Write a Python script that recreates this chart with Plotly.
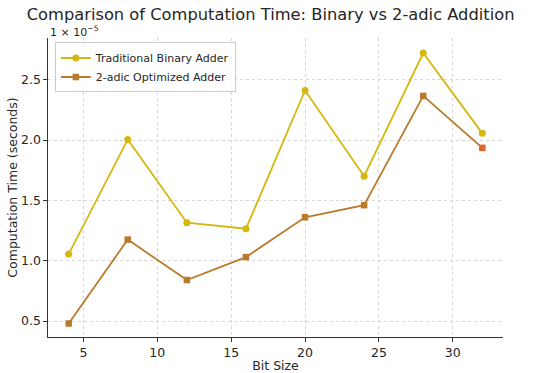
import plotly.graph_objects as go

bit_sizes = [4, 8, 12, 16, 20, 24, 28, 32]
binary_times = [1.055e-5, 2.005e-5, 1.315e-5, 1.265e-5, 2.41e-5, 1.70e-5, 2.72e-5, 2.055e-5]
adic_times = [0.48e-5, 1.175e-5, 0.84e-5, 1.03e-5, 1.36e-5, 1.46e-5, 2.365e-5, 1.935e-5]
x_ticks = [5, 10, 15, 20, 25, 30]
y_ticks = [0.5, 1.0, 1.5, 2.0, 2.5]

scale = 1e-5
bin_y = [v / scale for v in binary_times]
adic_y = [v / scale for v in adic_times]

BIN_C = "#D6B70F"
ADIC_C = "#B97A2B"
adic_marker_colors = [ADIC_C] * (len(adic_y) - 1) + ["#E0662F"]

FONT = "DejaVu Sans"
fig = go.Figure()
fig.add_trace(go.Scatter(
    x=bit_sizes, y=bin_y, mode="lines+markers", name="Traditional Binary Adder",
    line=dict(color=BIN_C, width=1.8),
    marker=dict(symbol="circle", size=7, color=BIN_C),
))
fig.add_trace(go.Scatter(
    x=bit_sizes, y=adic_y, mode="lines+markers", name="2-adic Optimized Adder",
    line=dict(color=ADIC_C, width=1.8),
    marker=dict(symbol="square", size=6.5, color=adic_marker_colors),
))

axis_common = dict(
    showline=True, linecolor="#333333", linewidth=1.1,
    ticks="outside", ticklen=3.5, tickcolor="#333333", tickwidth=1,
    showgrid=True, gridcolor="#d6d6d6", gridwidth=0.8, griddash="dot",
    zeroline=False, tickfont=dict(family=FONT, size=12.5, color="#262626"),
    mirror=False, automargin=False,
)
fig.update_xaxes(
    range=[2.6, 33.4], tickvals=x_ticks, ticktext=[str(t) for t in x_ticks],
    title=dict(text="Bit Size", font=dict(family=FONT, size=12.5, color="#262626"), standoff=3),
    **axis_common,
)
fig.update_yaxes(
    range=[0.368, 2.845], tickvals=y_ticks, ticktext=[f"{t:.1f}" for t in y_ticks],
    title=dict(text="Computation Time (seconds)", font=dict(family=FONT, size=12.5, color="#262626"), standoff=0),
    **axis_common,
)
fig.add_annotation(
    text="1 × 10<sup>−5</sup>", xref="paper", yref="paper", x=0.0, y=1.0,
    xanchor="left", yanchor="bottom", showarrow=False, yshift=-3,
    font=dict(family=FONT, size=11, color="#262626"),
)
fig.update_layout(
    width=550, height=373,
    margin=dict(l=48, r=47, t=38, b=36),
    paper_bgcolor="white", plot_bgcolor="white",
    title=dict(text="Comparison of Computation Time: Binary vs 2-adic Addition",
               x=0.492, xanchor="center", y=0.962, yanchor="middle",
               font=dict(family=FONT, size=16.3, color="#262626")),
    legend=dict(x=0.015, y=0.985, xanchor="left", yanchor="top",
                bgcolor="rgba(255,255,255,0.85)", bordercolor="#cccccc", borderwidth=1,
                font=dict(family=FONT, size=11, color="#262626"),
                itemwidth=30, tracegroupgap=0),
    showlegend=True,
)
fig.write_html("out.html", config={"displayModeBar": False},
               post_script="document.body.style.margin='0';document.body.style.padding='0';")
